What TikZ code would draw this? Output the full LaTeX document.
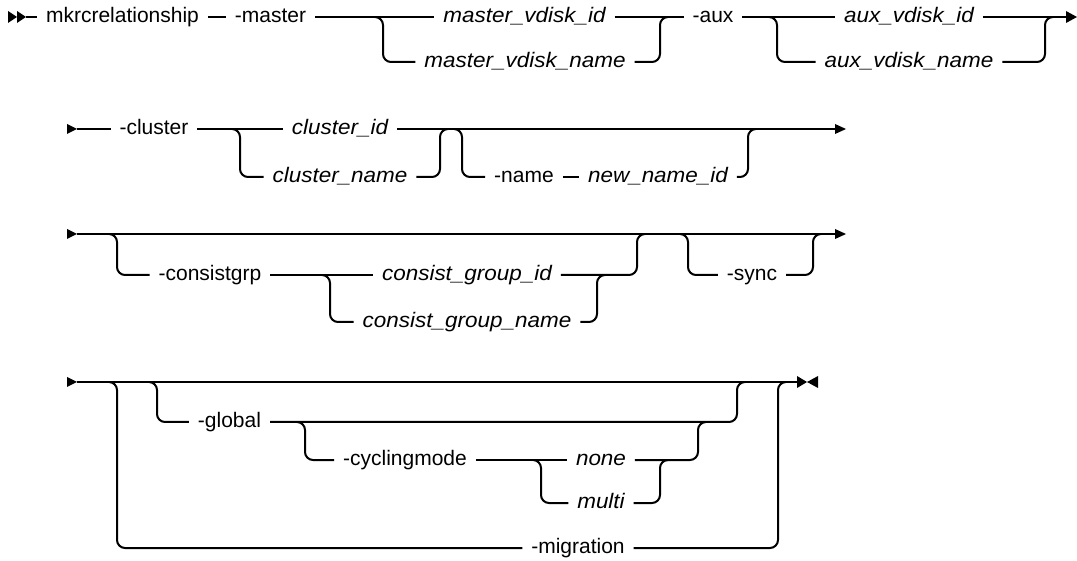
\documentclass[tikz,border=0pt]{standalone}
\usepackage{fontspec}
\setmainfont{Liberation Sans}[ItalicFeatures={FakeStretch=1.07}]
\begin{document}
\begin{tikzpicture}[x=1pt,y=-1pt,line width=2pt,
  lbl/.style={inner sep=0pt,outer xsep=9pt,text height=11pt,text depth=0pt,font=\fontsize{21}{25}\selectfont},
  var/.style={lbl,font=\fontsize{21}{25}\selectfont\itshape},
  rc/.style={rounded corners=8pt}]
\useasboundingbox (0,0) rectangle (1077,561);
% ---------------- row 1
\fill (8,11) -- (17,17) -- (8,23) -- cycle;
\fill (17,11) -- (26,17) -- (17,23) -- cycle;
\coordinate (s1) at (26,17);
\node[lbl] (mk) at (122.5,17) {mkrcrelationship};
\node[lbl] (master) at (270.5,17) {-master};
\node[var] (mvi) at (524.5,17) {master\_vdisk\_id};
\node[var] (mvn) at (525,62) {master\_vdisk\_name};
\node[lbl] (aux) at (713,17) {-aux};
\node[var] (avi) at (909,17) {aux\_vdisk\_id};
\node[var] (avn) at (909,62) {aux\_vdisk\_name};
\coordinate (e1) at (1066,17);
\fill (1066,11) -- (1077,17) -- (1066,23) -- cycle;
\draw (s1) -- (mk);
\draw (mk) -- (master);
\draw (master) -- (mvi);
\draw (mvi) -- (aux);
\draw (aux) -- (avi);
\draw (avi) -- (e1);
\coordinate (b1s) at (375,17); \coordinate (b1e) at (668,17);
\draw[rc] (b1s) -- (383,17) -- (383,62) -- (mvn);
\draw[rc] (mvn) -- (660,62) -- (660,17) -- (b1e);
\coordinate (b2s) at (769,17); \coordinate (b2e) at (1053,17);
\draw[rc] (b2s) -- (777,17) -- (777,62) -- (avn);
\draw[rc] (avn) -- (1045,62) -- (1045,17) -- (b2e);
% ---------------- row 2
\fill (67,124) -- (77,129) -- (67,134) -- cycle;
\coordinate (s2) at (77,129);
\node[lbl] (cluster) at (154,129) {-cluster};
\node[var] (cid) at (340,129) {cluster\_id};
\node[var] (cname) at (340,177) {cluster\_name};
\node[lbl] (name) at (524,177) {-name};
\node[var] (nni) at (658,177) {new\_name\_id};
\coordinate (e2) at (835,129);
\fill (835,124) -- (846,129) -- (835,134) -- cycle;
\draw (s2) -- (cluster);
\draw (cluster) -- (cid);
\draw (cid) -- (e2);
\coordinate (c2a) at (232,129); \coordinate (c2b) at (448,129);
\draw[rc] (c2a) -- (240,129) -- (240,177) -- (cname);
\draw[rc] (cname) -- (440,177) -- (440,129) -- (c2b);
\coordinate (c2c) at (454,129); \coordinate (c2d) at (756,129);
\draw[rc] (c2c) -- (462,129) -- (462,177) -- (name);
\draw (name) -- (nni);
\draw[rc] (nni) -- (748,177) -- (748,129) -- (c2d);
% ---------------- row 3
\fill (67,229) -- (77,234) -- (67,239) -- cycle;
\coordinate (s3) at (77,234);
\coordinate (e3) at (835,234);
\fill (835,229) -- (846,234) -- (835,239) -- cycle;
\draw (s3) -- (e3);
\node[lbl] (cgrp) at (210,275) {-consistgrp};
\node[var] (cgi) at (467,275) {consist\_group\_id};
\node[var] (cgn) at (467,322) {consist\_group\_name};
\node[lbl] (sync) at (752,275) {-sync};
\coordinate (c3a) at (109,234); \coordinate (c3b) at (645,234);
\draw[rc] (c3a) -- (117,234) -- (117,275) -- (cgrp);
\draw (cgrp) -- (cgi);
\draw[rc] (cgi) -- (637,275) -- (637,234) -- (c3b);
\coordinate (c3c) at (322,275); \coordinate (c3d) at (605,275);
\draw[rc] (c3c) -- (330,275) -- (330,322) -- (cgn);
\draw[rc] (cgn) -- (597,322) -- (597,275) -- (c3d);
\coordinate (c3e) at (680,234); \coordinate (c3f) at (821,234);
\draw[rc] (c3e) -- (688,234) -- (688,275) -- (sync);
\draw[rc] (sync) -- (813,275) -- (813,234) -- (c3f);
% ---------------- row 4
\fill (67,377) -- (77,382) -- (67,387) -- cycle;
\coordinate (s4) at (77,382);
\coordinate (e4) at (797,382);
\fill (797,376) -- (807,382) -- (797,388) -- cycle;
\fill (818,376) -- (807,382) -- (818,388) -- cycle;
\draw (s4) -- (e4);
\node[lbl] (glob) at (229.5,422) {-global};
\node[lbl] (cyc) at (405,460) {-cyclingmode};
\node[var] (none) at (601,460) {none};
\node[var] (multi) at (601,503) {multi};
\node[lbl] (mig) at (578,548) {-migration};
\coordinate (c4a) at (109,382); \coordinate (c4b) at (786,382);
\draw[rc] (c4a) -- (117,382) -- (117,548) -- (mig);
\draw[rc] (mig) -- (778,548) -- (778,382) -- (c4b);
\coordinate (c4c) at (149,382); \coordinate (c4d) at (745,382);
\draw[rc] (c4c) -- (157,382) -- (157,422) -- (glob);
\draw[rc] (glob) -- (737,422) -- (737,382) -- (c4d);
\coordinate (c4e) at (297,422); \coordinate (c4f) at (706,422);
\draw[rc] (c4e) -- (305,422) -- (305,460) -- (cyc);
\draw (cyc) -- (none);
\draw[rc] (none) -- (698,460) -- (698,422) -- (c4f);
\coordinate (c4g) at (533,460); \coordinate (c4h) at (668,460);
\draw[rc] (c4g) -- (541,460) -- (541,503) -- (multi);
\draw[rc] (multi) -- (660,503) -- (660,460) -- (c4h);
\end{tikzpicture}
\end{document}
